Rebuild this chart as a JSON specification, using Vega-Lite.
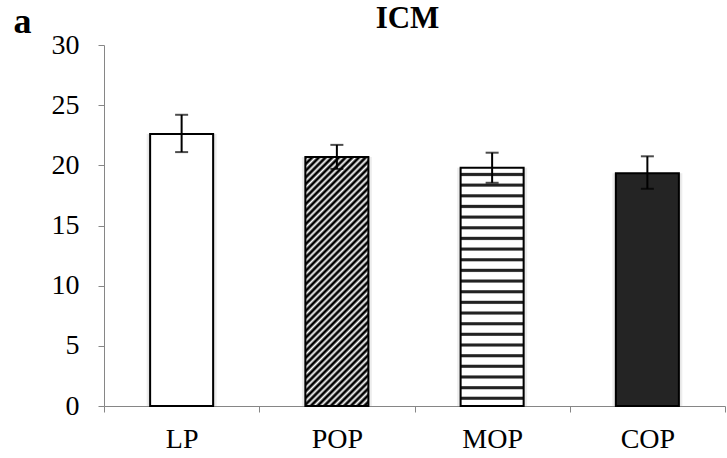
{
  "$schema": "https://vega.github.io/schema/vega-lite/v6.json",
  "width": 621,
  "height": 361,
  "autosize": {"type": "none"},
  "padding": {"left": 104, "top": 45, "right": 2, "bottom": 52},
  "background": "white",
  "title": {
    "text": "ICM",
    "font": "Liberation Serif",
    "fontSize": 31,
    "fontWeight": "bold",
    "color": "black",
    "anchor": "middle",
    "offset": 10,
    "dx": -7,
    "dy": 42
  },
  "data": {
    "values": [
      {"group": "LP", "mean": 22.6, "lo": 21.1, "hi": 24.2},
      {"group": "POP", "mean": 20.7, "lo": 19.7, "hi": 21.7},
      {"group": "MOP", "mean": 19.8, "lo": 18.55, "hi": 21.05},
      {"group": "COP", "mean": 19.35, "lo": 18.05, "hi": 20.75}
    ]
  },
  "encoding": {
    "x": {
      "field": "group",
      "type": "nominal",
      "scale": {"domain": ["LP", "POP", "MOP", "COP"], "paddingInner": 0, "paddingOuter": 0},
      "axis": {
        "title": null,
        "labelAngle": 0,
        "tickBand": "extent",
        "tickSize": 6,
        "tickColor": "#868686",
        "domainColor": "#868686",
        "labelFont": "Liberation Serif",
        "labelFontSize": 28,
        "labelColor": "black",
        "labelPadding": 13,
        "grid": false
      }
    },
    "y": {
      "field": "mean",
      "type": "quantitative",
      "scale": {"domain": [0, 30], "nice": false},
      "axis": {
        "title": "a",
        "titleAngle": 0,
        "titleX": -91,
        "titleY": -13,
        "titleAlign": "left",
        "titleBaseline": "alphabetic",
        "titleFont": "Liberation Serif",
        "titleFontSize": 36,
        "titleFontWeight": "bold",
        "titleColor": "black",
        "values": [0, 5, 10, 15, 20, 25, 30],
        "tickSize": 6,
        "tickColor": "#868686",
        "domainColor": "#868686",
        "labelFont": "Liberation Serif",
        "labelFontSize": 28,
        "labelColor": "black",
        "labelPadding": 19,
        "grid": false
      }
    }
  },
  "layer": [
    {
      "mark": {"type": "bar", "width": 70, "fill": "#000", "fillOpacity": 0.07, "strokeWidth": 0},
      "encoding": {}
    },
    {
      "mark": {"type": "bar", "width": 66, "fill": "#000", "fillOpacity": 0.08, "strokeWidth": 0},
      "encoding": {}
    },
    {
      "transform": [{"filter": "datum.group === 'LP'"}],
      "mark": {"type": "bar", "width": 63, "fill": "white", "stroke": "black", "strokeWidth": 2},
      "encoding": {}
    },
    {
      "transform": [{"filter": "datum.group === 'POP'"}],
      "mark": {
        "type": "bar",
        "width": 63,
        "stroke": "black",
        "strokeWidth": 2,
        "fill": {
          "gradient": "linear",
          "x1": 0, "y1": 0, "x2": 0.298, "y2": 1.1776,
          "stops": [
            {"offset": 0, "color": "#000"}, {"offset": 0.0043, "color": "#000"}, {"offset": 0.0128, "color": "#fff"},
            {"offset": 0.0214, "color": "#000"}, {"offset": 0.0257, "color": "#000"}, {"offset": 0.0342, "color": "#fff"},
            {"offset": 0.0428, "color": "#000"}, {"offset": 0.0471, "color": "#000"}, {"offset": 0.0556, "color": "#fff"},
            {"offset": 0.0642, "color": "#000"}, {"offset": 0.0685, "color": "#000"}, {"offset": 0.077, "color": "#fff"},
            {"offset": 0.0856, "color": "#000"}, {"offset": 0.0899, "color": "#000"}, {"offset": 0.0984, "color": "#fff"},
            {"offset": 0.107, "color": "#000"}, {"offset": 0.1113, "color": "#000"}, {"offset": 0.1198, "color": "#fff"},
            {"offset": 0.1284, "color": "#000"}, {"offset": 0.1327, "color": "#000"}, {"offset": 0.1412, "color": "#fff"},
            {"offset": 0.1498, "color": "#000"}, {"offset": 0.1541, "color": "#000"}, {"offset": 0.1626, "color": "#fff"},
            {"offset": 0.1712, "color": "#000"}, {"offset": 0.1755, "color": "#000"}, {"offset": 0.184, "color": "#fff"},
            {"offset": 0.1926, "color": "#000"}, {"offset": 0.1969, "color": "#000"}, {"offset": 0.2054, "color": "#fff"},
            {"offset": 0.214, "color": "#000"}, {"offset": 0.2183, "color": "#000"}, {"offset": 0.2268, "color": "#fff"},
            {"offset": 0.2354, "color": "#000"}, {"offset": 0.2397, "color": "#000"}, {"offset": 0.2482, "color": "#fff"},
            {"offset": 0.2568, "color": "#000"}, {"offset": 0.2611, "color": "#000"}, {"offset": 0.2696, "color": "#fff"},
            {"offset": 0.2782, "color": "#000"}, {"offset": 0.2825, "color": "#000"}, {"offset": 0.291, "color": "#fff"},
            {"offset": 0.2996, "color": "#000"}, {"offset": 0.3039, "color": "#000"}, {"offset": 0.3124, "color": "#fff"},
            {"offset": 0.321, "color": "#000"}, {"offset": 0.3253, "color": "#000"}, {"offset": 0.3338, "color": "#fff"},
            {"offset": 0.3424, "color": "#000"}, {"offset": 0.3467, "color": "#000"}, {"offset": 0.3552, "color": "#fff"},
            {"offset": 0.3638, "color": "#000"}, {"offset": 0.3681, "color": "#000"}, {"offset": 0.3766, "color": "#fff"},
            {"offset": 0.3852, "color": "#000"}, {"offset": 0.3895, "color": "#000"}, {"offset": 0.398, "color": "#fff"},
            {"offset": 0.4066, "color": "#000"}, {"offset": 0.4109, "color": "#000"}, {"offset": 0.4194, "color": "#fff"},
            {"offset": 0.428, "color": "#000"}, {"offset": 0.4323, "color": "#000"}, {"offset": 0.4408, "color": "#fff"},
            {"offset": 0.4494, "color": "#000"}, {"offset": 0.4537, "color": "#000"}, {"offset": 0.4622, "color": "#fff"},
            {"offset": 0.4708, "color": "#000"}, {"offset": 0.4751, "color": "#000"}, {"offset": 0.4836, "color": "#fff"},
            {"offset": 0.4922, "color": "#000"}, {"offset": 0.4965, "color": "#000"}, {"offset": 0.505, "color": "#fff"},
            {"offset": 0.5136, "color": "#000"}, {"offset": 0.5179, "color": "#000"}, {"offset": 0.5264, "color": "#fff"},
            {"offset": 0.535, "color": "#000"}, {"offset": 0.5393, "color": "#000"}, {"offset": 0.5478, "color": "#fff"},
            {"offset": 0.5564, "color": "#000"}, {"offset": 0.5607, "color": "#000"}, {"offset": 0.5692, "color": "#fff"},
            {"offset": 0.5778, "color": "#000"}, {"offset": 0.5821, "color": "#000"}, {"offset": 0.5906, "color": "#fff"},
            {"offset": 0.5992, "color": "#000"}, {"offset": 0.6035, "color": "#000"}, {"offset": 0.612, "color": "#fff"},
            {"offset": 0.6206, "color": "#000"}, {"offset": 0.6249, "color": "#000"}, {"offset": 0.6334, "color": "#fff"},
            {"offset": 0.642, "color": "#000"}, {"offset": 0.6463, "color": "#000"}, {"offset": 0.6548, "color": "#fff"},
            {"offset": 0.6634, "color": "#000"}, {"offset": 0.6677, "color": "#000"}, {"offset": 0.6762, "color": "#fff"},
            {"offset": 0.6848, "color": "#000"}, {"offset": 0.6891, "color": "#000"}, {"offset": 0.6976, "color": "#fff"},
            {"offset": 0.7062, "color": "#000"}, {"offset": 0.7105, "color": "#000"}, {"offset": 0.719, "color": "#fff"},
            {"offset": 0.7276, "color": "#000"}, {"offset": 0.7319, "color": "#000"}, {"offset": 0.7404, "color": "#fff"},
            {"offset": 0.749, "color": "#000"}, {"offset": 0.7533, "color": "#000"}, {"offset": 0.7618, "color": "#fff"},
            {"offset": 0.7704, "color": "#000"}, {"offset": 0.7747, "color": "#000"}, {"offset": 0.7832, "color": "#fff"},
            {"offset": 0.7918, "color": "#000"}, {"offset": 0.7961, "color": "#000"}, {"offset": 0.8046, "color": "#fff"},
            {"offset": 0.8132, "color": "#000"}, {"offset": 0.8175, "color": "#000"}, {"offset": 0.826, "color": "#fff"},
            {"offset": 0.8346, "color": "#000"}, {"offset": 0.8389, "color": "#000"}, {"offset": 0.8474, "color": "#fff"},
            {"offset": 0.856, "color": "#000"}, {"offset": 0.8603, "color": "#000"}, {"offset": 0.8688, "color": "#fff"},
            {"offset": 0.8774, "color": "#000"}, {"offset": 0.8817, "color": "#000"}, {"offset": 0.8902, "color": "#fff"},
            {"offset": 0.8988, "color": "#000"}, {"offset": 0.9031, "color": "#000"}, {"offset": 0.9116, "color": "#fff"},
            {"offset": 0.9202, "color": "#000"}, {"offset": 0.9245, "color": "#000"}, {"offset": 0.933, "color": "#fff"},
            {"offset": 0.9416, "color": "#000"}, {"offset": 0.9459, "color": "#000"}, {"offset": 0.9544, "color": "#fff"},
            {"offset": 0.963, "color": "#000"}, {"offset": 0.9673, "color": "#000"}, {"offset": 0.9758, "color": "#fff"},
            {"offset": 0.9844, "color": "#000"}, {"offset": 0.9887, "color": "#000"}, {"offset": 0.9972, "color": "#fff"},
            {"offset": 1, "color": "#ccc"}
          ]
        }
      },
      "encoding": {}
    },
    {
      "transform": [{"filter": "datum.group === 'MOP'"}],
      "mark": {
        "type": "bar",
        "width": 63,
        "stroke": "black",
        "strokeWidth": 2,
        "fill": {
          "gradient": "linear",
          "x1": 0, "y1": 1, "x2": 0, "y2": 0,
          "stops": [
            {"offset": 0, "color": "#fff"},
            {"offset": 0.0233, "color": "#fff"}, {"offset": 0.0283, "color": "#222"}, {"offset": 0.0363, "color": "#222"}, {"offset": 0.0413, "color": "#fff"},
            {"offset": 0.068, "color": "#fff"}, {"offset": 0.073, "color": "#222"}, {"offset": 0.081, "color": "#222"}, {"offset": 0.086, "color": "#fff"},
            {"offset": 0.1128, "color": "#fff"}, {"offset": 0.1178, "color": "#222"}, {"offset": 0.1258, "color": "#222"}, {"offset": 0.1308, "color": "#fff"},
            {"offset": 0.1575, "color": "#fff"}, {"offset": 0.1625, "color": "#222"}, {"offset": 0.1705, "color": "#222"}, {"offset": 0.1755, "color": "#fff"},
            {"offset": 0.2022, "color": "#fff"}, {"offset": 0.2072, "color": "#222"}, {"offset": 0.2152, "color": "#222"}, {"offset": 0.2202, "color": "#fff"},
            {"offset": 0.247, "color": "#fff"}, {"offset": 0.252, "color": "#222"}, {"offset": 0.26, "color": "#222"}, {"offset": 0.265, "color": "#fff"},
            {"offset": 0.2917, "color": "#fff"}, {"offset": 0.2967, "color": "#222"}, {"offset": 0.3047, "color": "#222"}, {"offset": 0.3097, "color": "#fff"},
            {"offset": 0.3364, "color": "#fff"}, {"offset": 0.3414, "color": "#222"}, {"offset": 0.3494, "color": "#222"}, {"offset": 0.3544, "color": "#fff"},
            {"offset": 0.3812, "color": "#fff"}, {"offset": 0.3862, "color": "#222"}, {"offset": 0.3942, "color": "#222"}, {"offset": 0.3992, "color": "#fff"},
            {"offset": 0.4259, "color": "#fff"}, {"offset": 0.4309, "color": "#222"}, {"offset": 0.4389, "color": "#222"}, {"offset": 0.4439, "color": "#fff"},
            {"offset": 0.4707, "color": "#fff"}, {"offset": 0.4757, "color": "#222"}, {"offset": 0.4837, "color": "#222"}, {"offset": 0.4887, "color": "#fff"},
            {"offset": 0.5154, "color": "#fff"}, {"offset": 0.5204, "color": "#222"}, {"offset": 0.5284, "color": "#222"}, {"offset": 0.5334, "color": "#fff"},
            {"offset": 0.5601, "color": "#fff"}, {"offset": 0.5651, "color": "#222"}, {"offset": 0.5731, "color": "#222"}, {"offset": 0.5781, "color": "#fff"},
            {"offset": 0.6049, "color": "#fff"}, {"offset": 0.6099, "color": "#222"}, {"offset": 0.6179, "color": "#222"}, {"offset": 0.6229, "color": "#fff"},
            {"offset": 0.6496, "color": "#fff"}, {"offset": 0.6546, "color": "#222"}, {"offset": 0.6626, "color": "#222"}, {"offset": 0.6676, "color": "#fff"},
            {"offset": 0.6943, "color": "#fff"}, {"offset": 0.6993, "color": "#222"}, {"offset": 0.7073, "color": "#222"}, {"offset": 0.7123, "color": "#fff"},
            {"offset": 0.7391, "color": "#fff"}, {"offset": 0.7441, "color": "#222"}, {"offset": 0.7521, "color": "#222"}, {"offset": 0.7571, "color": "#fff"},
            {"offset": 0.7838, "color": "#fff"}, {"offset": 0.7888, "color": "#222"}, {"offset": 0.7968, "color": "#222"}, {"offset": 0.8018, "color": "#fff"},
            {"offset": 0.8285, "color": "#fff"}, {"offset": 0.8335, "color": "#222"}, {"offset": 0.8415, "color": "#222"}, {"offset": 0.8465, "color": "#fff"},
            {"offset": 0.8733, "color": "#fff"}, {"offset": 0.8783, "color": "#222"}, {"offset": 0.8863, "color": "#222"}, {"offset": 0.8913, "color": "#fff"},
            {"offset": 0.918, "color": "#fff"}, {"offset": 0.923, "color": "#222"}, {"offset": 0.931, "color": "#222"}, {"offset": 0.936, "color": "#fff"},
            {"offset": 0.9627, "color": "#fff"}, {"offset": 0.9677, "color": "#222"}, {"offset": 0.9757, "color": "#222"}, {"offset": 0.9807, "color": "#fff"},
            {"offset": 1, "color": "#fff"}
          ]
        }
      },
      "encoding": {}
    },
    {
      "transform": [{"filter": "datum.group === 'COP'"}],
      "mark": {"type": "bar", "width": 63, "fill": "#242424", "stroke": "black", "strokeWidth": 2},
      "encoding": {}
    },
    {
      "mark": {"type": "rule", "color": "black", "strokeWidth": 2},
      "encoding": {
        "y": {
          "field": "lo",
          "type": "quantitative",
          "axis": {
            "title": "a",
            "titleAngle": 0,
            "titleX": -91,
            "titleY": -13,
            "titleAlign": "left",
            "titleBaseline": "alphabetic",
            "titleFont": "Liberation Serif",
            "titleFontSize": 36,
            "titleFontWeight": "bold",
            "titleColor": "black",
            "values": [0, 5, 10, 15, 20, 25, 30],
            "tickSize": 6,
            "tickColor": "#868686",
            "domainColor": "#868686",
            "labelFont": "Liberation Serif",
            "labelFontSize": 28,
            "labelColor": "black",
            "labelPadding": 19,
            "grid": false
          }
        },
        "y2": {"field": "hi"}
      }
    },
    {
      "mark": {"type": "tick", "orient": "horizontal", "size": 13, "thickness": 2, "color": "black"},
      "encoding": {
        "y": {
          "field": "lo",
          "type": "quantitative",
          "axis": {
            "title": "a",
            "titleAngle": 0,
            "titleX": -91,
            "titleY": -13,
            "titleAlign": "left",
            "titleBaseline": "alphabetic",
            "titleFont": "Liberation Serif",
            "titleFontSize": 36,
            "titleFontWeight": "bold",
            "titleColor": "black",
            "values": [0, 5, 10, 15, 20, 25, 30],
            "tickSize": 6,
            "tickColor": "#868686",
            "domainColor": "#868686",
            "labelFont": "Liberation Serif",
            "labelFontSize": 28,
            "labelColor": "black",
            "labelPadding": 19,
            "grid": false
          }
        }
      }
    },
    {
      "mark": {"type": "tick", "orient": "horizontal", "size": 13, "thickness": 2, "color": "black"},
      "encoding": {
        "y": {
          "field": "hi",
          "type": "quantitative",
          "axis": {
            "title": "a",
            "titleAngle": 0,
            "titleX": -91,
            "titleY": -13,
            "titleAlign": "left",
            "titleBaseline": "alphabetic",
            "titleFont": "Liberation Serif",
            "titleFontSize": 36,
            "titleFontWeight": "bold",
            "titleColor": "black",
            "values": [0, 5, 10, 15, 20, 25, 30],
            "tickSize": 6,
            "tickColor": "#868686",
            "domainColor": "#868686",
            "labelFont": "Liberation Serif",
            "labelFontSize": 28,
            "labelColor": "black",
            "labelPadding": 19,
            "grid": false
          }
        }
      }
    }
  ],
  "config": {"view": {"stroke": null}}
}
